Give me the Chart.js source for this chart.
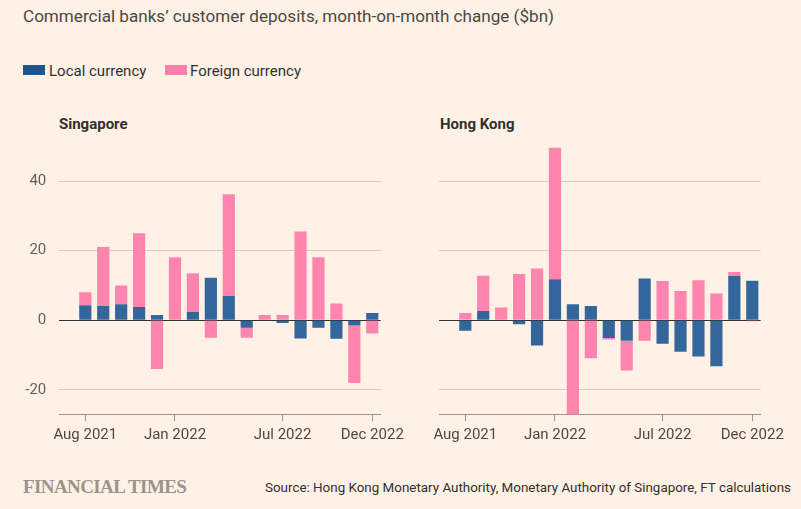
<!DOCTYPE html>
<html>
<head>
<meta charset="utf-8">
<script src="https://cdn.jsdelivr.net/npm/chart.js@4"></script>
<style>
  body { margin: 0; background: #fff1e5; width: 801px; height: 509px; overflow: hidden; position: relative; font-family: Roboto, sans-serif; }
  .abs { position: absolute; white-space: nowrap; }
  #title { left: 23px; top: 6px; font-size: 17.1px; color: #4d4845; }
  .sw { position: absolute; width: 22px; height: 10px; top: 65px; }
  .lg { top: 61px; font-size: 15px; color: #33302e; line-height: 20px; }
  .panel { top: 114px; font-size: 15px; font-weight: bold; color: #33302e; line-height: 20px; }
  canvas { position: absolute; top: 132px; }
  #ft { left: 23px; top: 475px; font-family: "Liberation Serif", serif; font-size: 19px; font-weight: bold; color: #9e938b; letter-spacing: -0.6px; line-height: 24px; }
  #source { left: 265px; top: 479px; font-size: 13.4px; color: #33302e; line-height: 18px; }
</style>
</head>
<body>
<div id="title" class="abs">Commercial banks’ customer deposits, month-on-month change ($bn)</div>
<div class="sw" style="left:23px;background:#1e5591"></div>
<div class="abs lg" style="left:49px">Local currency</div>
<div class="sw" style="left:165px;background:#ff7fab"></div>
<div class="abs lg" style="left:190px">Foreign currency</div>
<div class="abs panel" style="left:59px">Singapore</div>
<div class="abs panel" style="left:440px">Hong Kong</div>
<canvas id="sg" width="420" height="320" style="left:0px"></canvas>
<canvas id="hk" width="420" height="320" style="left:381px"></canvas>
<div id="ft" class="abs">FINANCIAL TIMES</div>
<div id="source" class="abs">Source: Hong Kong Monetary Authority, Monetary Authority of Singapore, FT calculations</div>
<script>
const months = ["Aug 2021", "Sep 2021", "Oct 2021", "Nov 2021", "Dec 2021", "Jan 2022", "Feb 2022", "Mar 2022",
  "Apr 2022", "May 2022", "Jun 2022", "Jul 2022", "Aug 2022", "Sep 2022", "Oct 2022", "Nov 2022", "Dec 2022"];
const tickLabels = ["Aug 2021", "Jan 2022", "Jul 2022", "Dec 2022"];
const yTicks = [-20, 0, 20, 40];

// Singapore
const sgLocal = [4.3, 4.1, 4.6, 3.8, 1.5, 0, 2.4, 12.2, 7.0, -2.1, 0, -0.8, -5.2, -2.1, -5.3, -1.5, 2.1];
const sgForeign = [3.8, 17.0, 5.4, 21.2, -14.0, 18.1, 11.1, -5.0, 29.2, -2.9, 1.5, 1.5, 25.5, 18.1, 4.8, -16.5, -3.8];
// Hong Kong
const hkLocal = [-3.0, 2.7, 0, -1.1, -7.2, 11.8, 4.6, 4.1, -5.1, -5.9, 12.0, -6.7, -9.0, -10.4, -13.2, 12.7, 11.4];
const hkForeign = [2.1, 10.1, 3.7, 13.3, 14.9, 37.8, -30.0, -10.9, -0.4, -8.5, -5.9, 11.3, 8.4, 11.5, 7.7, 1.2, -0.3];

const blue = "#33679b";
const pink = "#ff85ae";
const axisColor = "#9e948c";
const gridColor = "#d6ccc2";
const tickFont = { family: "Roboto", size: 15 };

function makePanel(id, local, foreign, showY, yWidth, padRight) {
  new Chart(document.getElementById(id), {
    type: "bar",
    data: {
      datasets: [
        { label: "Local currency", data: local.map((v, i) => ({ x: i, y: v })), backgroundColor: blue },
        { label: "Foreign currency", data: foreign.map((v, i) => ({ x: i, y: v })), backgroundColor: pink }
      ]
    },
    options: {
      responsive: false,
      animation: false,
      layout: { padding: { top: 10.8, right: padRight, bottom: 0, left: 0 } },
      plugins: { legend: { display: false }, tooltip: { enabled: false } },
      datasets: { bar: { barPercentage: 0.68, categoryPercentage: 1 } },
      scales: {
        x: {
          type: "linear",
          min: -1.45,
          max: 16.47,
          offset: false,
          stacked: true,
          afterBuildTicks: s => { s.ticks = tickLabels.map(t => ({ value: months.indexOf(t) })); },
          ticks: { callback: v => months[v], autoSkip: false, maxRotation: 0, color: "#4d4845", font: tickFont, padding: 5 },
          grid: { offset: false, drawOnChartArea: false, drawTicks: true, tickLength: 7, color: axisColor },
          border: { display: true, color: axisColor },
          afterFit: s => { s.height = 37.7; s.paddingLeft = 0; s.paddingRight = 0; }
        },
        y: {
          min: -27,
          max: 51,
          stacked: true,
          afterBuildTicks: s => { s.ticks = yTicks.map(v => ({ value: v })); },
          ticks: { display: showY, color: "#66605c", font: tickFont, padding: 13 },
          grid: {
            drawTicks: false,
            color: c => (c.tick && c.tick.value === 0 ? "#33302e" : gridColor)
          },
          border: { display: false },
          afterFit: s => { s.width = yWidth; s.paddingTop = 0; s.paddingBottom = 0; }
        }
      }
    }
  });
}

makePanel("sg", sgLocal, sgForeign, true, 59.3, 39.3);
makePanel("hk", hkLocal, hkForeign, false, 58.3, 40.3);
</script>
</body>
</html>
